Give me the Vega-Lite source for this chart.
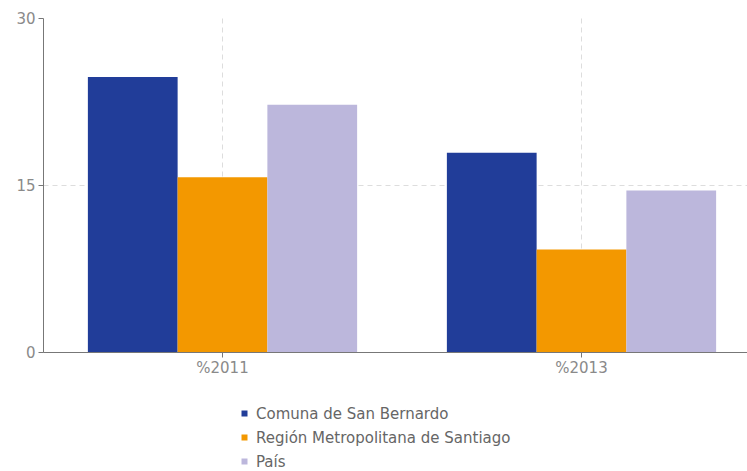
{
  "$schema": "https://vega.github.io/schema/vega-lite/v6.json",
  "autosize": "none",
  "width": 718,
  "height": 334,
  "padding": {"left": 43, "top": 18, "right": 0, "bottom": 119},
  "background": "white",
  "config": {
    "font": "DejaVu Sans",
    "view": {"stroke": null}
  },
  "data": {
    "values": [
      {"anio": "%2011", "serie": "Comuna de San Bernardo", "valor": 24.7},
      {"anio": "%2011", "serie": "Región Metropolitana de Santiago", "valor": 15.7},
      {"anio": "%2011", "serie": "País", "valor": 22.2},
      {"anio": "%2013", "serie": "Comuna de San Bernardo", "valor": 17.9},
      {"anio": "%2013", "serie": "Región Metropolitana de Santiago", "valor": 9.2},
      {"anio": "%2013", "serie": "País", "valor": 14.5}
    ]
  },
  "mark": {"type": "bar"},
  "encoding": {
    "x": {
      "field": "anio",
      "type": "nominal",
      "scale": {"paddingInner": 0.25, "paddingOuter": 0.125},
      "axis": {
        "title": null,
        "labelAngle": 0,
        "labelFontSize": 15,
        "labelColor": "#8a8a8a",
        "labelPadding": 3,
        "domainColor": "#777777",
        "tickColor": "#777777",
        "tickSize": 5,
        "grid": true,
        "gridColor": "#dddddd",
        "gridDash": [5, 4],
        "gridWidth": 1
      }
    },
    "xOffset": {"field": "serie", "type": "nominal", "sort": ["Comuna de San Bernardo", "Región Metropolitana de Santiago", "País"]},
    "y": {
      "field": "valor",
      "type": "quantitative",
      "scale": {"domain": [0, 30], "nice": false},
      "axis": {
        "title": null,
        "values": [0, 15, 30],
        "labelFontSize": 15,
        "labelColor": "#8a8a8a",
        "labelPadding": 3,
        "domainColor": "#777777",
        "tickColor": "#777777",
        "tickSize": 5,
        "grid": true,
        "gridColor": "#dddddd",
        "gridDash": [5, 4],
        "gridOpacity": {"condition": {"test": "datum.value == 30", "value": 0}, "value": 1}
      }
    },
    "color": {
      "field": "serie",
      "type": "nominal",
      "sort": ["Comuna de San Bernardo", "Región Metropolitana de Santiago", "País"],
      "scale": {
        "domain": ["Comuna de San Bernardo", "Región Metropolitana de Santiago", "País"],
        "range": ["#213d99", "#f39800", "#bcb7dc"]
      },
      "legend": {
        "title": null,
        "orient": "none",
        "legendX": 194,
        "legendY": 388,
        "symbolType": "square",
        "symbolSize": 36,
        "symbolStrokeWidth": 0,
        "labelFontSize": 15,
        "labelColor": "#666666",
        "labelOffset": 4,
        "labelLimit": 0,
        "rowPadding": 8,
        "padding": 0
      }
    }
  }
}
